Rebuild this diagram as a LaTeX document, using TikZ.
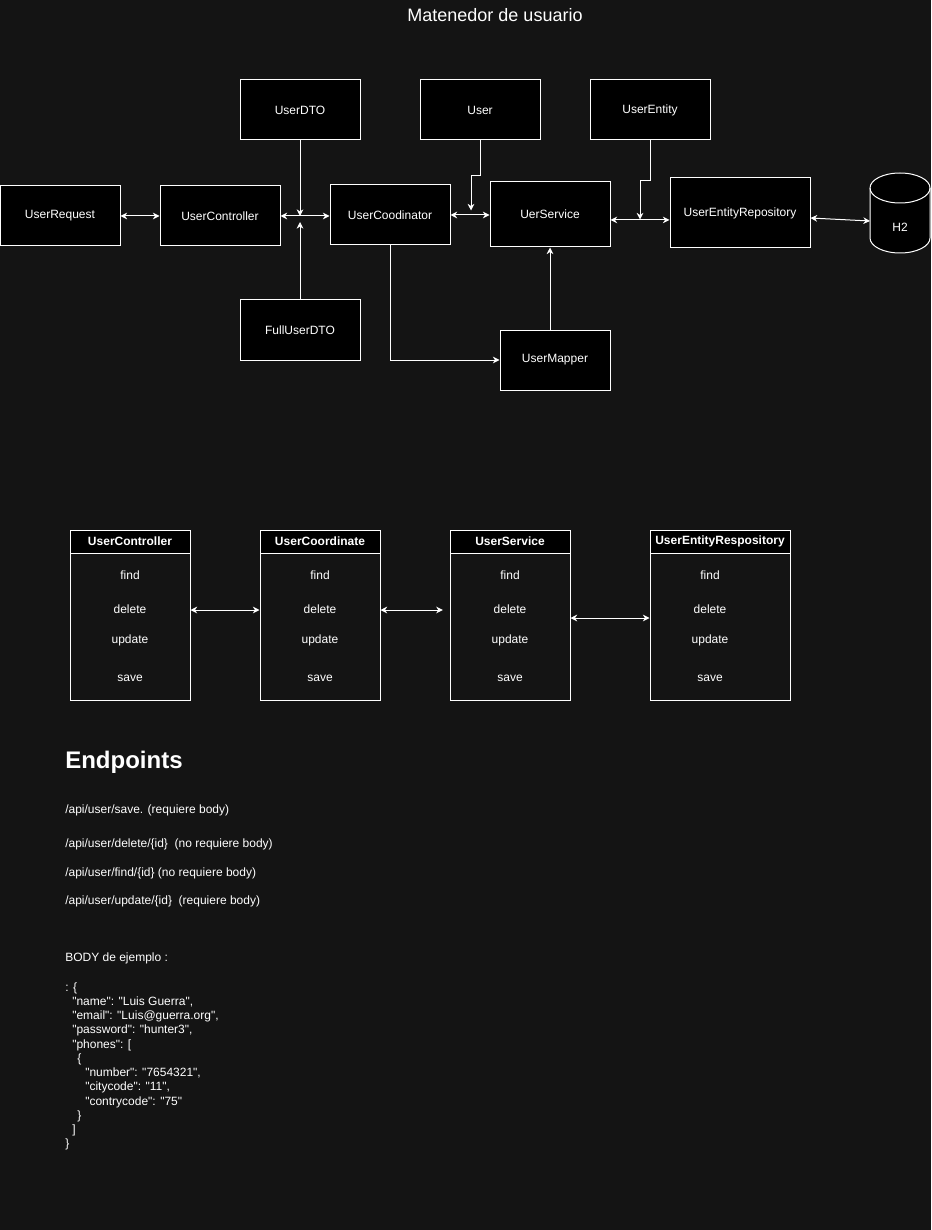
\documentclass[tikz,border=0pt]{standalone}
\usepackage{fontspec}
\setmainfont{Liberation Sans}
\newfontfamily\plainfont{Liberation Sans}
\usetikzlibrary{arrows.meta}
\definecolor{bgdark}{HTML}{141414}
\tikzset{
  >={Stealth[length=5pt,width=5pt,inset=1.6pt]},
  box/.style={draw=white,fill=black,line width=.75pt,text=white,
    font=\fontsize{9}{11}\selectfont,minimum width=90pt,minimum height=45pt,inner sep=0pt},
  link/.style={draw=white,line width=.75pt},
  thead/.style={draw=white,fill=black,line width=.75pt,text=white,
    font=\bfseries\fontsize{9}{11}\selectfont,minimum height=17.25pt,inner sep=0pt},
  tbody/.style={draw=white,line width=.75pt,minimum height=127.5pt,inner sep=0pt},
  txt/.style={text=white,font=\fontsize{9}{11}\selectfont,inner sep=0pt}
}

\begin{document}
\begin{tikzpicture}[x=.75pt,y=-.75pt]
  \fill[bgdark] (0,0) rectangle (931,1230);
  \useasboundingbox (0,0) rectangle (931,1230);
  \node[txt,anchor=base,font=\fontsize{13.5}{16}\selectfont] (title) at (495,22) {Matenedor de usuario};

  % top diagram
  \node[box] (req) at (60,216) {UserRequest};
  \node[box] (ctrl) at (220,216) {UserController};
  \node[box] (dto) at (300,110) {UserDTO};
  \node[box] (fulldto) at (300,330) {FullUserDTO};
  \node[box] (coord) at (390,215) {UserCoodinator};
  \node[box] (user) at (480,110) {User};
  \node[box,minimum height=48.75pt] (serv) at (550,214.5) {UerService};
  \node[box] (entity) at (650,110) {UserEntity};
  \node[box,minimum width=105pt,minimum height=52.5pt] (repo) at (740,213) {UserEntityRepository};
  \node[box,minimum width=82.5pt] (mapper) at (555,360) {UserMapper};
  \draw[link,fill=black] (870,188) -- (870,238) arc[start angle=180,end angle=0,x radius=30,y radius=15]
    -- (930,188) arc[start angle=0,end angle=-180,x radius=30,y radius=15] -- cycle;
  \draw[link] (870,188) arc[start angle=180,end angle=0,x radius=30,y radius=15];
  \node[txt] (h2) at (900,227) {H2};
  \coordinate (h2w) at (870,221);

  \draw[link,<->] (req) -- (ctrl);
  \draw[link,<->] (ctrl.east) -- (ctrl.east -| coord.west);
  \draw[link,->] (dto.south) -- (dto.south |- ctrl.east);
  \draw[link,->] (fulldto.north) -- ([yshift=-4.5pt]fulldto.north |- ctrl.east);
  \draw[link,<->] (coord.east) -- (coord.east -| serv.west);
  \draw[link,->] (user.south) -- ++(0,35) -| ++(-9,35);
  \draw[link,<->] ([yshift=-4.1pt]serv.east) -- ([yshift=-4.1pt]serv.east -| repo.west);
  \draw[link,->] (entity.south) -- ++(0,40) -| ++(-10,39);
  \draw[link,<->] ([yshift=-3.75pt]repo.east) -- (h2w);
  \draw[link,->] (coord.south) |- (mapper.west);
  \draw[link,->] (mapper.north -| serv.south) -- (serv.south);

  % method tables
  \foreach \x/\w/\n/\lbl/\ix in {130/90pt/tctrl/UserController/130,
      320/90pt/tcoord/UserCoordinate/320, 510/90pt/tserv/UserService/510,
      720/105pt/trepo/UserEntityRespository/710} {
    \node[tbody,minimum width=\w] (\n) at (\x,615) {};
    \node[thead,minimum width=\w,anchor=north] (\n-h) at (\n.north) {\lbl};
    \foreach \y/\m in {575/find,609/delete,640/update,678/save}
      \node[txt] (\n-\m) at (\ix,\y) {\m};
  }
  \draw[link,<->] (tctrl.east |- 0,610) -- (tcoord.west |- 0,610);
  \draw[link,<->] (tcoord.east |- 0,610) -- ([xshift=-5pt]tserv.west |- 0,610);
  \draw[link,<->] (tserv.east |- 0,618) -- (trepo.west |- 0,618);

  % endpoints
  \node[txt,anchor=base west,font=\bfseries\fontsize{18}{22}\selectfont] (endp) at (65,768) {Endpoints};
  \node[txt,anchor=base west] (epsave) at (65,813) {/api/user/save. (requiere body)};
  \node[txt,anchor=base west] (epdel) at (65,847) {/api/user/delete/\{id\}~ (no requiere body)};
  \node[txt,anchor=base west] (epfind) at (65,876) {/api/user/find/\{id\} (no requiere body)};
  \node[txt,anchor=base west] (epupd) at (65,904) {/api/user/update/\{id\}~ (requiere body)};

  % body example
  \node[txt,anchor=base west] (bodyhd) at (65,961) {BODY de ejemplo :};
  \foreach \i/\dx/\t in {0/0/{: \{}, 1/7/{"name": "Luis Guerra",},
      2/7/{"email": "Luis@guerra.org",}, 3/7/{"password": "hunter3",},
      4/7/{"phones": [}, 5/12/{\{}, 6/20/{"number": "7654321",},
      7/20/{"citycode": "11",}, 8/20/{"contrycode": "75"}, 9/12/{\}},
      10/7/{]}, 11/0/{\}}}
    \node[txt,anchor=base west,font=\plainfont\fontsize{9}{11}\selectfont] (json\i) at (65+\dx,991+14.27*\i) {\t};
\end{tikzpicture}
\end{document}
